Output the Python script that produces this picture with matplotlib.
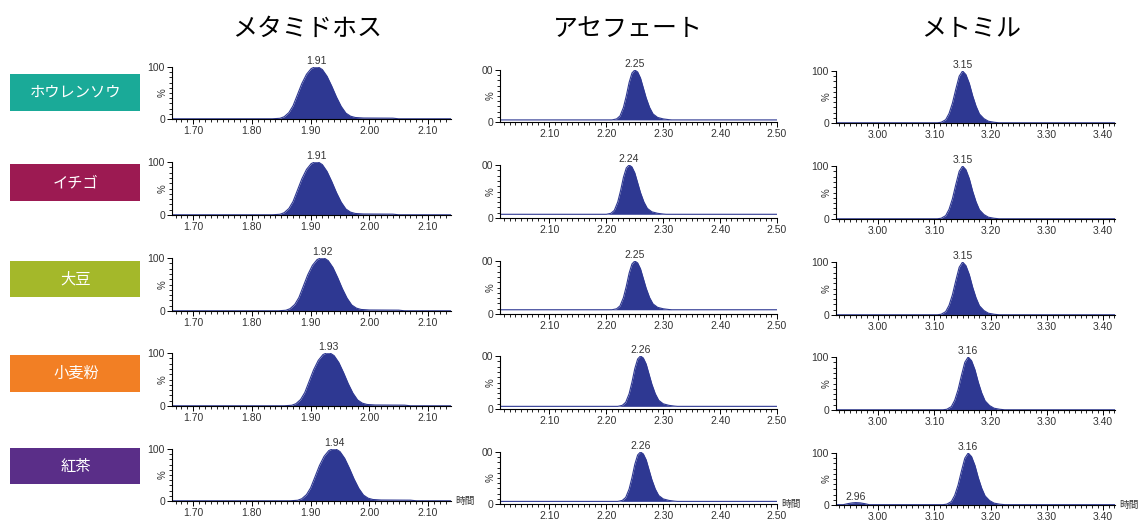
import matplotlib
matplotlib.use('Agg')
import matplotlib.pyplot as plt
from matplotlib.patches import Rectangle
from matplotlib.ticker import MultipleLocator
import matplotlib.transforms as mtransforms

plt.rcParams['font.family'] = ['Noto Sans CJK JP', 'DejaVu Sans']

# サンプル名と色
samples = ['ホウレンソウ', 'イチゴ', '大豆', '小麦粉', '紅茶']
sample_colors = ['#1aaa98', '#9c1a52', '#a4b82a', '#f27f24', '#5a2e88']
compounds = ['メタミドホス', 'アセフェート', 'メトミル']

# 保持時間 (ピーク頂点のラベル)
rt_metamidophos = [1.91, 1.91, 1.92, 1.93, 1.94]
rt_acephate = [2.25, 2.24, 2.25, 2.26, 2.26]
rt_methomyl = [3.15, 3.15, 3.15, 3.16, 3.16]

# ベースラインの高さ (%)
base_metamidophos = [0.4, 0.4, 0.4, 0.4, 0.4]
base_acephate = [4, 7, 8, 5, 5]
base_methomyl = [0.4, 0.4, 0.4, 0.4, 0.6]

# ピーク形状: 頂点からのずれ (分) と強度 (%)
shape_meta_dt = [-0.075, -0.062, -0.055, -0.047, -0.040, -0.033, -0.025, -0.017, -0.009, -0.003,
                 0.003, 0.010, 0.018, 0.026, 0.034, 0.042, 0.050, 0.058, 0.066, 0.080, 0.130, 0.140]
shape_meta_y = [0, 1, 4, 12, 25, 45, 68, 86, 97, 100,
                100, 95, 82, 63, 42, 24, 11, 5, 2.5, 1.5, 1.2, 0]
shape_ace_dt = [-0.040, -0.032, -0.026, -0.020, -0.015, -0.010, -0.005, 0.0, 0.005, 0.010,
                0.015, 0.020, 0.026, 0.032, 0.040, 0.050, 0.060, 0.065]
shape_ace_y = [0, 2, 8, 25, 48, 75, 94, 100, 96, 84,
               64, 44, 25, 12, 5, 2, 0.5, 0]
shape_meth_dt = [-0.045, -0.038, -0.030, -0.024, -0.018, -0.012, -0.006, 0.0, 0.006, 0.012,
                 0.018, 0.024, 0.030, 0.038, 0.046, 0.056, 0.065]
shape_meth_y = [0, 1, 6, 18, 38, 65, 90, 100, 93, 76,
                52, 32, 17, 8, 3, 1, 0]

# 紅茶 / メトミル の小さいピーク
small_rt = 2.96
small_dt = [-0.022, -0.014, -0.006, 0.0, 0.008, 0.016, 0.024]
small_y = [0, 2, 3.5, 4, 3.5, 2, 0]

# 軸の範囲と目盛
xlims = [(1.664, 2.139), (2.013, 2.500), (2.925, 3.421)]
ticks_meta = [1.70, 1.80, 1.90, 2.00, 2.10]
ticks_ace = [2.10, 2.20, 2.30, 2.40, 2.50]
ticks_meth = [3.00, 3.10, 3.20, 3.30, 3.40]
ytick_labels = [['0', '100'], ['0', '00'], ['0', '100']]

rts = [rt_metamidophos, rt_acephate, rt_methomyl]
bases = [base_metamidophos, base_acephate, base_methomyl]
shapes = [(shape_meta_dt, shape_meta_y), (shape_ace_dt, shape_ace_y), (shape_meth_dt, shape_meth_y)]
xticks = [ticks_meta, ticks_ace, ticks_meth]

# レイアウト (ピクセル)
W, H = 1139, 520
col_x = [(172, 451), (500, 777), (836, 1115)]
col_dy = [0, 3, 4]
row_y100 = [67, 162, 258, 353, 449]
row_y0 = [119, 215, 311, 406, 501]
box_y = [(74, 111), (164, 201), (261, 297), (355, 392), (448, 484)]
title_x = [307, 628, 971]

navy = '#2e3892'
num_font = ['Liberation Sans', 'DejaVu Sans']
txt_col = '#333333'
fig = plt.figure(figsize=(W / 100, H / 100), dpi=100)

for c in range(3):
    fig.text(title_x[c] / W, 1 - 29 / H, compounds[c], fontsize=18, ha='center', va='center', color='black')

for r in range(5):
    y1, y2 = box_y[r]
    fig.patches.append(Rectangle((10 / W, 1 - y2 / H), 130 / W, (y2 - y1) / H,
                                 transform=fig.transFigure, facecolor=sample_colors[r], edgecolor='none'))
    fig.text(76 / W, 1 - (y1 + y2) / 2 / H, samples[r], fontsize=11, color='white', ha='center', va='center')

    for c in range(3):
        xl, xr = col_x[c]
        y100 = row_y100[r] + col_dy[c]
        y0 = row_y0[r] + col_dy[c]
        ax = fig.add_axes([xl / W, 1 - y0 / H, (xr - xl) / W, (y0 - y100) / H])

        rt = rts[c][r]
        base = bases[c][r]
        dt, yy = shapes[c]
        tt = [xlims[c][0]] + [rt + d for d in dt] + [xlims[c][1]]
        vals = [base] + [base + v * (100 - base) / 100 for v in yy] + [base]
        if c == 2 and r == 4:
            # 2.96 の小ピークを加える
            tt = [xlims[c][0]] + [small_rt + d for d in small_dt] + tt[1:]
            vals = [base] + [base + v for v in small_y] + vals[1:]
            ax.text(small_rt, base + small_y[3] + 2, '2.96', fontsize=7.5, ha='center', va='bottom',
                    color=txt_col, family=num_font)
        ax.plot(tt, vals, color=navy, lw=0.8)
        ax.fill_between(tt, base, vals, color=navy, lw=0)
        ax.text(rt, 101, '%.2f' % rt, fontsize=7.5, ha='center', va='bottom', color=txt_col, family=num_font)

        ax.set_xlim(*xlims[c])
        ax.set_ylim(0, 100)
        for s in ['top', 'right']:
            ax.spines[s].set_visible(False)
        for s in ['left', 'bottom']:
            ax.spines[s].set_linewidth(0.8)
        ax.set_xticks(xticks[c])
        ax.set_xticklabels(['%.2f' % t for t in xticks[c]], family=num_font)
        ax.xaxis.set_minor_locator(MultipleLocator(0.01))
        ax.set_yticks([0, 100])
        ax.set_yticklabels(ytick_labels[c], family=num_font)
        ax.yaxis.set_minor_locator(MultipleLocator(10))
        ax.tick_params(which='major', length=3.5, width=0.7, labelsize=7.5, labelcolor=txt_col, pad=1.5)
        ax.tick_params(which='minor', length=2, width=0.6)
        ax.patch.set_alpha(0)
        trans = mtransforms.blended_transform_factory(ax.transAxes, ax.transData)
        ax.text(-0.035, 50, '%', fontsize=7, rotation=90, ha='center', va='center', color=txt_col,
                transform=trans, family=num_font)
        if r == 4:
            ax.text(1.015, 0, '時間', fontsize=7, ha='left', va='center', color=txt_col,
                    transform=ax.transAxes, clip_on=False)

fig.savefig('out.png', dpi=100)
